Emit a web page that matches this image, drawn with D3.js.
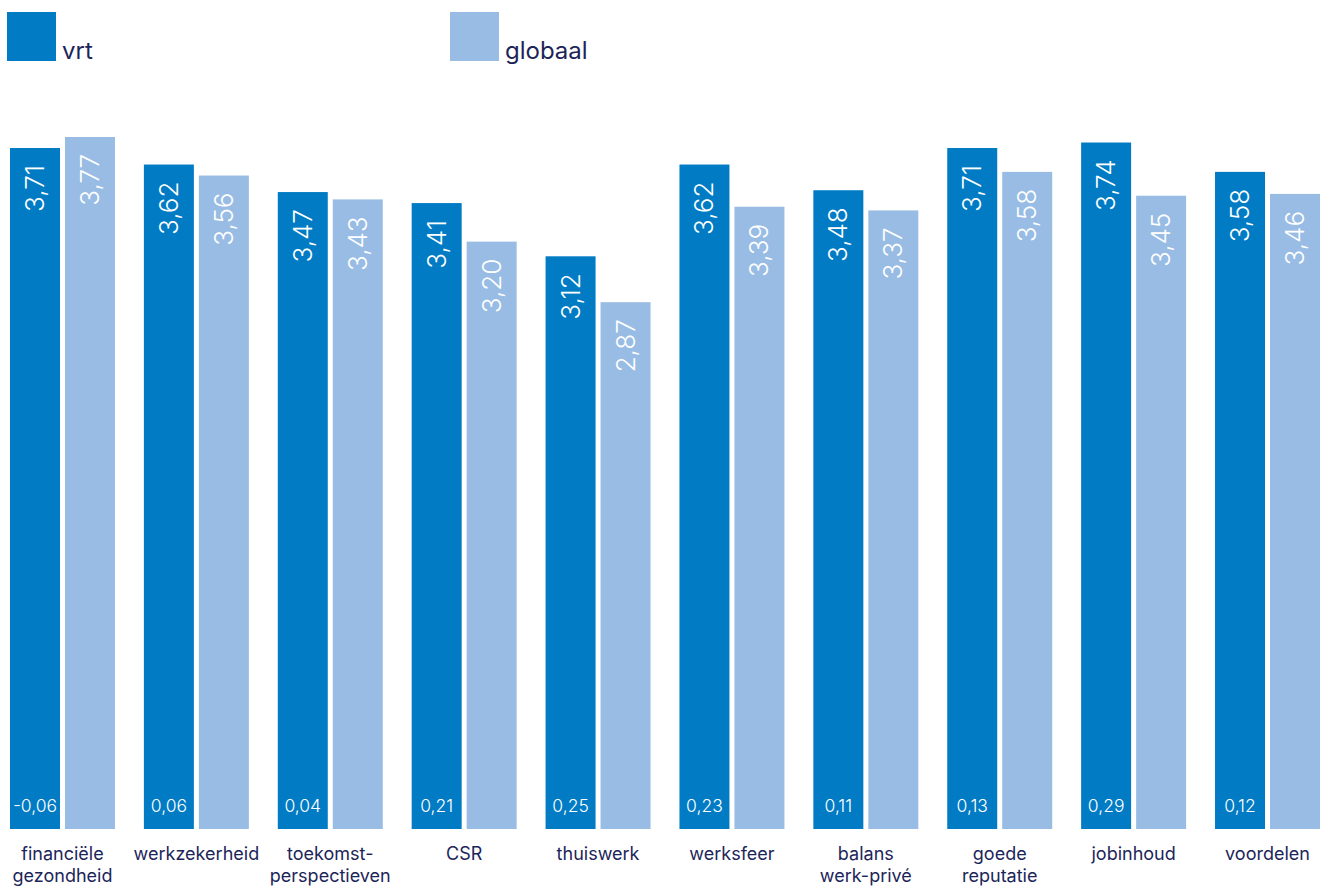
<!DOCTYPE html>
<html lang="nl">
<head>
    <meta charset="UTF-8">
    <title>vrt vs globaal</title>
    <script src="https://d3js.org/d3.v7.min.js"></script>
    <style>
        body { margin: 0; background: #ffffff; }
        text { font-family: Inter, "Noto Sans", sans-serif; }
    </style>
</head>
<body>
<script>
    var width = 1337;
    var height = 891;

    // data
    var categories = [
        ["financiële", "gezondheid"],
        ["werkzekerheid"],
        ["toekomst-", "perspectieven"],
        ["CSR"],
        ["thuiswerk"],
        ["werksfeer"],
        ["balans", "werk-privé"],
        ["goede", "reputatie"],
        ["jobinhoud"],
        ["voordelen"]
    ];
    var vrt = [3.71, 3.62, 3.47, 3.41, 3.12, 3.62, 3.48, 3.71, 3.74, 3.58];
    var globaal = [3.77, 3.56, 3.43, 3.20, 2.87, 3.39, 3.37, 3.58, 3.45, 3.46];
    var verschil = [-0.06, 0.06, 0.04, 0.21, 0.25, 0.23, 0.11, 0.13, 0.29, 0.12];
    var series = ["vrt", "globaal"];

    var color = d3.scaleOrdinal()
        .domain(series)
        .range(["#007bc4", "#98bce4"]);
    var textColor = "#1c2559";

    var fmt = function (v) {
        return d3.format(".2f")(v).replace(".", ",").replace("−", "-");
    };

    var svg = d3.select("body").append("svg")
        .attr("width", width)
        .attr("height", height);

    var x0 = d3.scaleBand()
        .domain(d3.range(categories.length))
        .range([10, 1320])
        .paddingInner(0.216)
        .paddingOuter(0);

    var x1 = d3.scaleBand()
        .domain(series)
        .range([0, x0.bandwidth()])
        .paddingInner(0.0909)
        .paddingOuter(0);

    var y = d3.scaleLinear()
        .domain([0, 3.77])
        .range([829, 137]);

    // legend
    var legendX = [7, 450];
    series.forEach(function (s, i) {
        svg.append("rect")
            .attr("x", legendX[i])
            .attr("y", 12)
            .attr("width", 49)
            .attr("height", 49)
            .attr("fill", color(s));
        svg.append("text")
            .attr("x", legendX[i] + 55)
            .attr("y", 59)
            .attr("font-size", "24px")
            .attr("fill", textColor)
            .text(s);
    });

    var groups = svg.selectAll(".group")
        .data(categories)
        .enter().append("g")
        .attr("class", "group")
        .attr("transform", function (d, i) { return "translate(" + x0(i) + ",0)"; });

    groups.each(function (cat, i) {
        var g = d3.select(this);
        var vals = [vrt[i], globaal[i]];
        series.forEach(function (s, j) {
            var bx = x1(s);
            var top = y(vals[j]);
            g.append("rect")
                .attr("x", bx)
                .attr("y", top)
                .attr("width", x1.bandwidth())
                .attr("height", y(0) - top)
                .attr("fill", color(s));

            var cx = bx + x1.bandwidth() / 2 + 9;
            var cy = top + 17;
            g.append("text")
                .attr("transform", "translate(" + cx + "," + cy + ") rotate(-90)")
                .attr("text-anchor", "end")
                .attr("font-size", "26px")
                .attr("font-weight", 300)
                .attr("fill", "#ffffff")
                .text(fmt(vals[j]));
        });

        // difference at the foot of the vrt bar
        g.append("text")
            .attr("x", x1("vrt") + x1.bandwidth() / 2)
            .attr("y", 812)
            .attr("text-anchor", "middle")
            .attr("font-size", "17.5px")
            .attr("font-weight", 300)
            .attr("fill", "#ffffff")
            .text(fmt(verschil[i]));

        // category label
        var label = g.append("text")
            .attr("text-anchor", "middle")
            .attr("font-size", "18px")
            .attr("fill", textColor);
        cat.forEach(function (line, k) {
            label.append("tspan")
                .attr("x", x0.bandwidth() / 2)
                .attr("y", 860 + k * 22)
                .text(line);
        });
    });
</script>
</body>
</html>
